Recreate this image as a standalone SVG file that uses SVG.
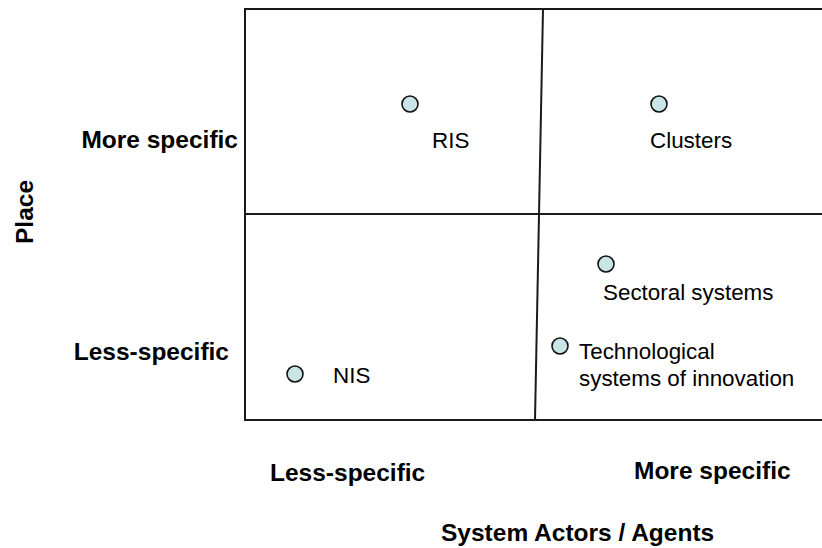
<svg xmlns="http://www.w3.org/2000/svg" width="822" height="548" viewBox="0 0 822 548">
<style>
.line{fill:none;stroke:#1a1a1a;stroke-width:2}
.dot{fill:#c9e5e7;stroke:#111;stroke-width:1.6}
.lbl{font-family:"Liberation Sans",Arial,sans-serif;font-size:22.4px;fill:#000}
.axis{font-family:"Liberation Sans",Arial,sans-serif;font-size:24.5px;font-weight:bold;fill:#000}
</style>
<rect width="822" height="548" fill="#fff"/>
<g id="grid">
<rect class="line" x="245" y="9" width="600" height="411"/>
<line class="line" x1="543" y1="9" x2="535" y2="420"/>
<line class="line" x1="245" y1="214" x2="822" y2="214"/>
</g>
<g id="axis-labels">
<text class="axis" x="238" y="148" text-anchor="end">More specific</text>
<text class="axis" x="229" y="360" text-anchor="end">Less-specific</text>
<text class="axis" transform="translate(33,212) rotate(-90)" text-anchor="middle">Place</text>
<text class="axis" x="270" y="481">Less-specific</text>
<text class="axis" x="634" y="479">More specific</text>
<text class="axis" x="441" y="541">System Actors / Agents</text>
</g>
<g id="connectors"></g>
<g id="node-ris">
<circle class="dot" cx="410" cy="104" r="8"/>
<text class="lbl" x="432" y="148">RIS</text>
</g>
<g id="node-clusters">
<circle class="dot" cx="659" cy="104" r="8"/>
<text class="lbl" x="650" y="148">Clusters</text>
</g>
<g id="node-sectoral">
<circle class="dot" cx="606" cy="264" r="8"/>
<text class="lbl" x="603" y="300">Sectoral systems</text>
</g>
<g id="node-tis">
<circle class="dot" cx="560" cy="346" r="8"/>
<text class="lbl" x="579" y="359">Technological</text>
<text class="lbl" x="579" y="386">systems of innovation</text>
</g>
<g id="node-nis">
<circle class="dot" cx="295" cy="374" r="8"/>
<text class="lbl" x="333" y="383">NIS</text>
</g>
</svg>
